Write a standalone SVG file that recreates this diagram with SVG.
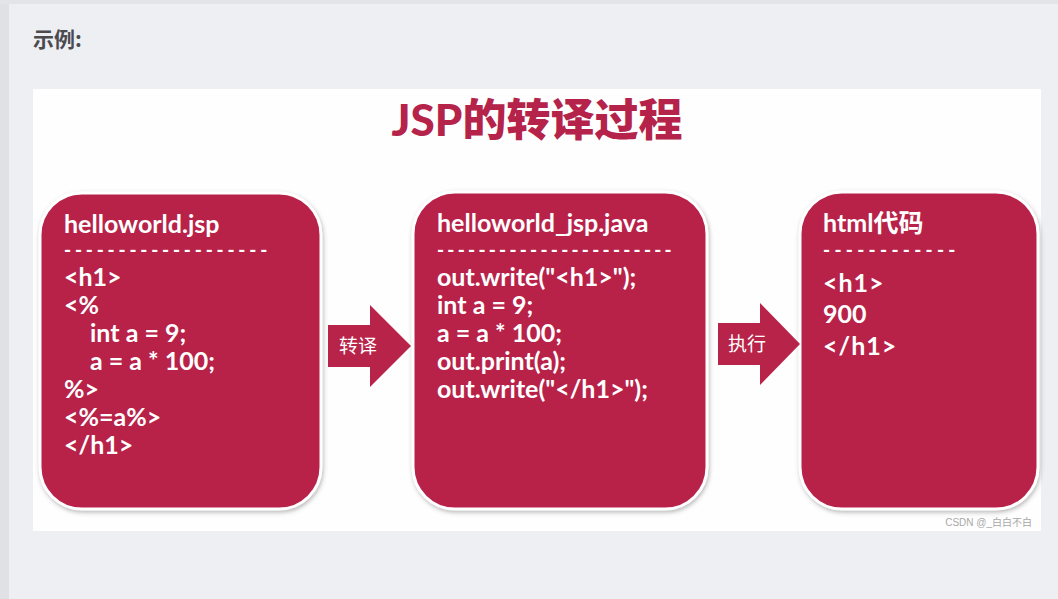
<svg xmlns="http://www.w3.org/2000/svg" width="1058" height="599" viewBox="0 0 1058 599">
  <defs>
    <filter id="sh" x="-10%" y="-10%" width="120%" height="120%">
      <feDropShadow dx="1" dy="2" stdDeviation="2" flood-color="#666" flood-opacity="0.45"/>
    </filter>
    <style>
      .box { fill: #b8234a; stroke: #ffffff; stroke-width: 3; filter: url(#sh); }
      .arrow { fill: #b8234a; }
      .code { font-family: Lato, "Open Sans", "Noto Sans CJK SC", sans-serif; font-weight: bold; font-size: 25px; fill: #ffffff; }
      .dash { font-family: Lato, "Open Sans", sans-serif; font-weight: 900; font-size: 19px; fill: #ffffff; }
      .lbl { font-family: "Noto Sans CJK SC", sans-serif; font-size: 19px; fill: #ffffff; }
    </style>
  </defs>
  <rect x="0" y="0" width="1058" height="599" fill="#eeeff3"/>
  <rect x="0" y="0" width="9" height="599" fill="#e0e1e5"/>
  <rect x="0" y="0" width="1058" height="4" fill="#e3e4e8"/>
  <text x="33" y="47" font-family="'Noto Sans CJK SC', sans-serif" font-weight="bold" font-size="21" fill="#4a4a4f">示例:</text>
  <rect x="33" y="89" width="1008" height="442" fill="#fefefe"/>
  <text x="537" y="136" text-anchor="middle" font-family="Lato, 'Noto Sans CJK SC', sans-serif" font-weight="900" font-size="44" fill="#b5234a">JSP的转译过程</text>

  <g id="node-jsp">
    <rect class="box" x="40" y="193" width="281" height="316" rx="42"/>
    <text class="code" x="64" y="233">helloworld.jsp</text>
    <text class="dash" x="64" y="257" letter-spacing="3.8">-------------------</text>
    <text class="code" x="64" y="286">&lt;h1&gt;</text>
    <text class="code" x="64" y="314">&lt;%</text>
    <text class="code" x="90" y="342">int a = 9;</text>
    <text class="code" x="90" y="370">a = a * 100;</text>
    <text class="code" x="64" y="398">%&gt;</text>
    <text class="code" x="64" y="426">&lt;%=a%&gt;</text>
    <text class="code" x="64" y="454">&lt;/h1&gt;</text>
  </g>

  <g id="node-java">
    <rect class="box" x="413" y="192" width="294" height="317" rx="42"/>
    <text class="code" x="437" y="232">helloworld_jsp.java</text>
    <text class="dash" x="437" y="257" letter-spacing="3.25">-----------------------</text>
    <text class="code" x="437" y="286">out.write("&lt;h1&gt;");</text>
    <text class="code" x="437" y="314">int a = 9;</text>
    <text class="code" x="437" y="342">a = a * 100;</text>
    <text class="code" x="437" y="370">out.print(a);</text>
    <text class="code" x="437" y="398">out.write("&lt;/h1&gt;");</text>
  </g>

  <g id="node-html">
    <rect class="box" x="800" y="192" width="238" height="317" rx="42"/>
    <text class="code" x="823" y="232">html<tspan font-family="'Noto Sans CJK SC', sans-serif">代码</tspan></text>
    <text class="dash" x="823" y="257" letter-spacing="4.3">------------</text>
    <text class="code" x="823" y="292" font-size="27" letter-spacing="1">&lt;h1&gt;</text>
    <text class="code" x="823" y="323" font-size="27">900</text>
    <text class="code" x="823" y="355" font-size="27" letter-spacing="1">&lt;/h1&gt;</text>
  </g>

  <g id="connectors">
    <g id="edge-translate">
      <polygon class="arrow" points="328,325 370,325 370,305 411,346 370,387 370,367 328,367"/>
      <text class="lbl" x="339" y="353">转译</text>
    </g>
    <g id="edge-execute">
      <polygon class="arrow" points="718,323 760,323 760,303 800,344 760,385 760,365 718,365"/>
      <text class="lbl" x="728" y="351">执行</text>
    </g>
  </g>

  <text x="1032" y="526" text-anchor="end" font-family="'Liberation Sans', 'Noto Sans CJK SC', sans-serif" font-size="10" fill="#a8a8a8">CSDN @_白白不白</text>
</svg>
